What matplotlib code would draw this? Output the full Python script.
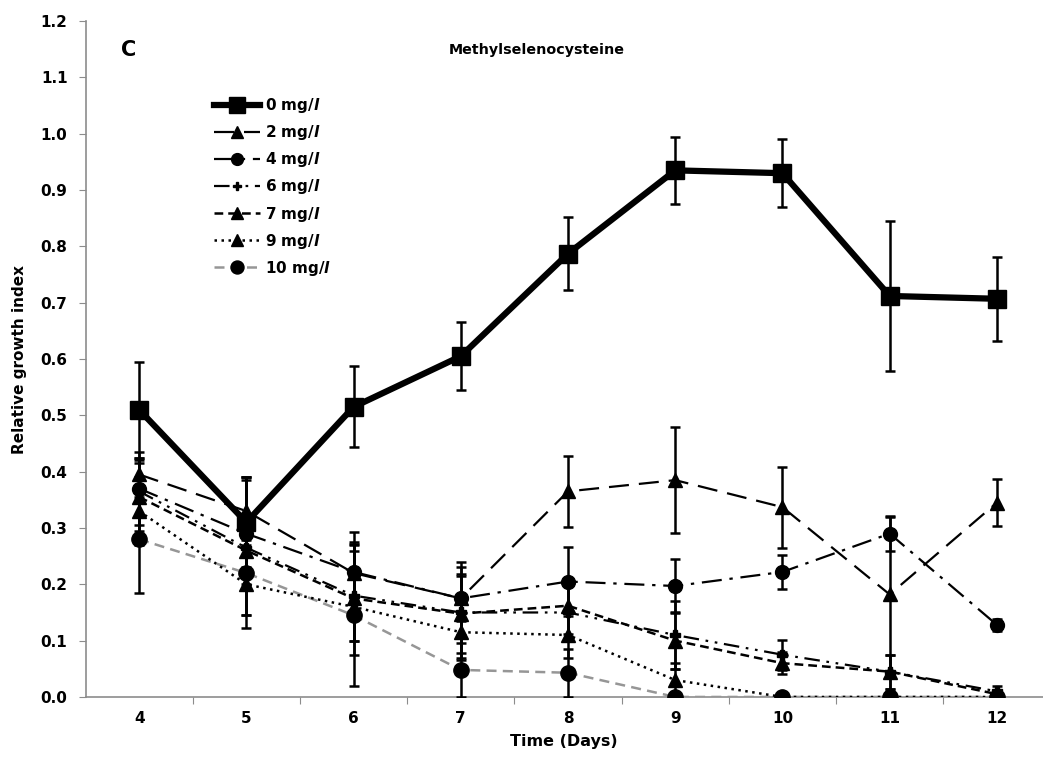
import matplotlib
matplotlib.use("Agg")
import matplotlib.pyplot as plt
from matplotlib.ticker import FixedLocator, NullFormatter

days = [4, 5, 6, 7, 8, 9, 10, 11, 12]

labels = ["0 mg/$\\mathbfit{l}$", "2 mg/$\\mathbfit{l}$", "4 mg/$\\mathbfit{l}$",
          "6 mg/$\\mathbfit{l}$", "7 mg/$\\mathbfit{l}$", "9 mg/$\\mathbfit{l}$",
          "10 mg/$\\mathbfit{l}$"]

mg0 = [0.510, 0.310, 0.515, 0.605, 0.787, 0.935, 0.930, 0.712, 0.707]
mg0_err = [0.085, 0.080, 0.072, 0.060, 0.065, 0.060, 0.060, 0.133, 0.075]

mg2 = [0.395, 0.330, 0.220, 0.175, 0.365, 0.385, 0.337, 0.182, 0.345]
mg2_err = [0.040, 0.060, 0.073, 0.065, 0.063, 0.094, 0.072, 0.140, 0.042]

mg4 = [0.370, 0.290, 0.222, 0.175, 0.205, 0.197, 0.222, 0.290, 0.128]
mg4_err = [0.050, 0.100, 0.050, 0.040, 0.062, 0.048, 0.030, 0.030, 0.010]

mg6 = [0.365, 0.265, 0.180, 0.150, 0.150, 0.110, 0.075, 0.045, 0.010]
mg6_err = [0.060, 0.120, 0.080, 0.080, 0.050, 0.060, 0.027, 0.030, 0.010]

mg7 = [0.355, 0.260, 0.175, 0.148, 0.162, 0.100, 0.060, 0.045, 0.005]
mg7_err = [0.060, 0.060, 0.100, 0.070, 0.050, 0.050, 0.020, 0.030, 0.005]

mg9 = [0.330, 0.200, 0.160, 0.115, 0.110, 0.030, 0.000, 0.000, 0.000]
mg9_err = [0.060, 0.078, 0.060, 0.050, 0.040, 0.030, 0.000, 0.000, 0.000]

mg10 = [0.280, 0.220, 0.145, 0.048, 0.043, 0.000, 0.000, 0.000, 0.000]
mg10_err = [0.095, 0.075, 0.125, 0.048, 0.043, 0.000, 0.000, 0.000, 0.000]

y_ticks = [0.0, 0.1, 0.2, 0.3, 0.4, 0.5, 0.6, 0.7, 0.8, 0.9, 1.0, 1.1, 1.2]

plt.rcParams["font.family"] = ["DejaVu Sans"]
plt.rcParams["mathtext.fontset"] = "dejavusans"

fig = plt.figure(figsize=(10.43, 7.68), dpi=100)
ax = fig.add_axes([0.082, 0.0925, 0.918, 0.880])

styles = [
    dict(values=mg0, err=mg0_err, marker="s", ms=13, lw=4.5, ls="-", color="black", z=10),
    dict(values=mg2, err=mg2_err, marker="^", ms=10, lw=1.6, ls=(0, (9, 4.5)), color="black", z=6),
    dict(values=mg4, err=mg4_err, marker="o", ms=10, lw=1.6, ls=(0, (9, 3.5, 1.5, 3.5)), color="black", z=6),
    dict(values=mg6, err=mg6_err, marker="P", ms=7, lw=1.6, ls=(0, (7, 3, 1.2, 3, 1.2, 3)), color="black", z=5),
    dict(values=mg7, err=mg7_err, marker="^", ms=10, lw=1.8, ls=(0, (3.5, 2)), color="black", z=5),
    dict(values=mg9, err=mg9_err, marker="^", ms=10, lw=1.8, ls=(0, (1, 1.8)), color="black", z=5),
    dict(values=mg10, err=mg10_err, marker="o", ms=11, lw=1.8, ls=(0, (4, 2.5)), color="#969696", z=4),
]

handles = []
for st, lab in zip(styles, labels):
    ax.errorbar(days, st["values"], yerr=st["err"], fmt="none", ecolor="black",
                elinewidth=1.8, capsize=3.5, capthick=1.8, zorder=st["z"] - 0.5)
    line, = ax.plot(days, st["values"], linestyle=st["ls"], linewidth=st["lw"],
                    color=st["color"], marker=st["marker"], markersize=st["ms"],
                    markerfacecolor="black", markeredgecolor="black",
                    markeredgewidth=1, zorder=st["z"], label=lab)
    handles.append(line)

ax.set_xlim(3.5, 12.43)
ax.set_ylim(0, 1.2)

# category axis: ticks between days, labels centred on days
ax.xaxis.set_major_locator(FixedLocator([d + 0.5 for d in days[:-1]]))
ax.xaxis.set_major_formatter(NullFormatter())
ax.set_xticks(days, minor=True)
ax.set_xticklabels([str(d) for d in days], minor=True, fontsize=11, fontweight="bold")
ax.tick_params(axis="x", which="minor", length=0, pad=10)
ax.tick_params(axis="x", which="major", length=5, color="#8c8c8c", direction="out")

ax.set_yticks(y_ticks)
ax.set_yticklabels([f"{t:.1f}" for t in y_ticks], fontsize=11, fontweight="bold")
ax.tick_params(axis="y", length=5, color="#8c8c8c", direction="out", pad=8)

for side in ("top", "right"):
    ax.spines[side].set_visible(False)
for side in ("left", "bottom"):
    ax.spines[side].set_color("#8c8c8c")
    ax.spines[side].set_linewidth(1.2)

ax.set_xlabel("Time (Days)", fontsize=11.5, fontweight="bold", labelpad=6)
ax.set_ylabel("Relative growth index", fontsize=11, fontweight="bold", labelpad=10)

fig.text(0.123, 0.935, "C", fontsize=15, fontweight="bold", ha="center", va="center")
fig.text(0.515, 0.935, "Methylselenocysteine", fontsize=10.3, fontweight="bold",
         ha="center", va="center")

leg = ax.legend(handles=handles, loc="upper left", bbox_to_anchor=(0.128, 0.898),
                frameon=False, fontsize=11, handlelength=3.0, handletextpad=0.35,
                labelspacing=0.53, borderaxespad=0, markerscale=0.85)
for t in leg.get_texts():
    t.set_fontweight("bold")

fig.savefig("out.png", dpi=100)
